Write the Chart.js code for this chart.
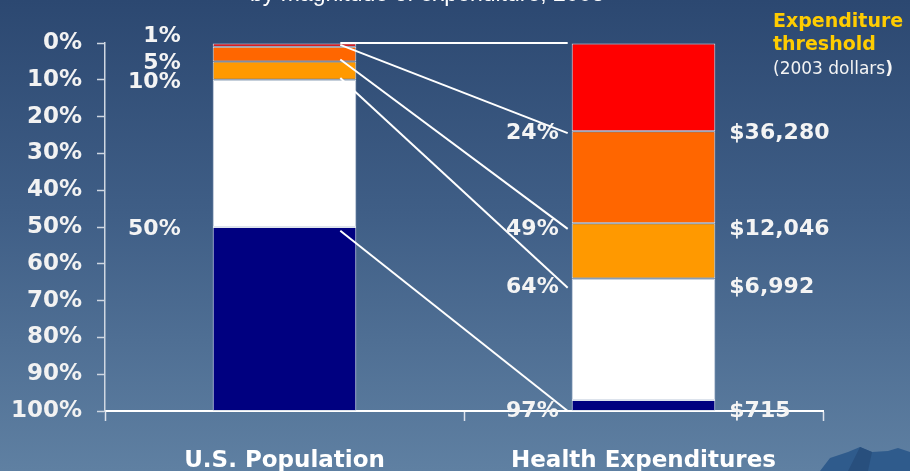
<!DOCTYPE html>
<html>
<head>
<meta charset="utf-8">
<script src="https://cdn.jsdelivr.net/npm/chart.js@4.4.1/dist/chart.umd.min.js"></script>
<style>
  html, body { margin: 0; padding: 0; }
  body {
    width: 910px;
    height: 471px;
    overflow: hidden;
    background: linear-gradient(to bottom, #2c4871 0%, #3f5e86 45%, #5f80a2 100%);
  }
  #wrap { position: relative; width: 910px; height: 471px; }
</style>
</head>
<body>
<div id="wrap"><canvas id="chart"></canvas></div>
<script>
document.addEventListener('DOMContentLoaded', function() {
    // Data
    const categories = ['U.S. Population', 'Health Expenditures'];
    // cumulative shares, from the top spenders down
    const populationBreaks = [0, 1, 5, 10, 50, 100];
    const spendingBreaks = [0, 24, 49, 64, 97, 100];
    const thresholds = ['$36,280', '$12,046', '$6,992', '$715'];
    // guide lines: where each leaves the population bar and where it lands
    const guideFrom = [0, 0.5, 4.5, 9.5, 51];
    const guideTo = [0, 24.5, 50.5, 66.5, 100];

    const segmentColors = ['#ff0000', '#ff6600', '#ff9900', '#ffffff', '#000080'];
    const boldFont = '"DejaVu Sans", sans-serif';

    // One floating dataset per band, both bars share a column per category
    const datasets = segmentColors.map(function(color, i) {
        return {
            data: [
                [populationBreaks[i], populationBreaks[i + 1]],
                [spendingBreaks[i], spendingBreaks[i + 1]]
            ],
            backgroundColor: color,
            borderColor: '#dde3ec',
            borderWidth: 1,
            borderSkipped: false,
            barPercentage: 0.4,
            categoryPercentage: 1
        };
    });

    // Guide lines, value labels, threshold note and the little mountain
    const overlay = {
        id: 'overlay',
        afterDraw(chart) {
            const ctx = chart.ctx;
            const yScale = chart.scales.y;
            const bars = chart.getDatasetMeta(0).data;
            const popBar = bars[0];
            const spendBar = bars[1];
            const startX = popBar.x + popBar.width / 2 - 16;
            const endX = spendBar.x - spendBar.width / 2 - 4;

            ctx.save();

            // heading, only its lower edge shows at the top
            ctx.fillStyle = '#ffffff';
            ctx.font = '23px "Liberation Sans", Arial, sans-serif';
            ctx.textAlign = 'left';
            ctx.textBaseline = 'alphabetic';
            ctx.fillText('by magnitude of expenditure, 2003', 250, 1);

            ctx.strokeStyle = '#ffffff';
            ctx.lineWidth = 2;
            guideFrom.forEach(function(v, i) {
                ctx.beginPath();
                ctx.moveTo(startX, yScale.getPixelForValue(v));
                ctx.lineTo(endX, yScale.getPixelForValue(guideTo[i]));
                ctx.stroke();
            });

            ctx.fillStyle = '#f4f4f4';
            ctx.font = 'bold 22px ' + boldFont;
            ctx.textBaseline = 'middle';

            // population shares, left of the first bar
            ctx.textAlign = 'right';
            const leftX = popBar.x - popBar.width / 2 - 32;
            populationBreaks.slice(1, 5).forEach(function(v, i) {
                const nudge = i === 0 ? -10 : 2;
                ctx.fillText(v + '%', leftX, yScale.getPixelForValue(v) + nudge);
            });

            // spending shares, left of the second bar
            spendingBreaks.slice(1, 5).forEach(function(v, i) {
                ctx.fillText(v + '%', endX - 9, yScale.getPixelForValue(guideTo[i + 1]));
            });

            // dollar thresholds, right of the second bar
            ctx.textAlign = 'left';
            const rightX = spendBar.x + spendBar.width / 2 + 14;
            thresholds.forEach(function(t, i) {
                ctx.fillText(t, rightX, yScale.getPixelForValue(guideTo[i + 1]));
            });

            // threshold note
            ctx.textBaseline = 'alphabetic';
            ctx.fillStyle = '#ffcc00';
            ctx.font = 'bold 19px ' + boldFont;
            ctx.fillText('Expenditure', 773, 27);
            ctx.fillText('threshold', 773, 50);
            ctx.fillStyle = '#f4f4f4';
            ctx.font = '17px ' + boldFont;
            ctx.fillText('(2003 dollars', 773, 74);
            const w = ctx.measureText('(2003 dollars').width;
            ctx.font = 'bold 17px ' + boldFont;
            ctx.fillText(')', 773 + w, 74);

            // mountain in the corner
            ctx.fillStyle = '#2f5b8c';
            ctx.beginPath();
            ctx.moveTo(820, 471);
            ctx.lineTo(830, 458);
            ctx.lineTo(848, 452);
            ctx.lineTo(860, 447);
            ctx.lineTo(872, 452);
            ctx.lineTo(888, 451);
            ctx.lineTo(898, 448);
            ctx.lineTo(910, 452);
            ctx.lineTo(910, 471);
            ctx.closePath();
            ctx.fill();
            ctx.fillStyle = '#284f7d';
            ctx.beginPath();
            ctx.moveTo(848, 471);
            ctx.lineTo(860, 447);
            ctx.lineTo(872, 452);
            ctx.lineTo(868, 471);
            ctx.closePath();
            ctx.fill();

            ctx.restore();
        }
    };

    const ctx = document.getElementById('chart').getContext('2d');
    new Chart(ctx, {
        type: 'bar',
        data: {
            labels: categories,
            datasets: datasets
        },
        options: {
            responsive: true,
            maintainAspectRatio: false,
            animation: false,
            layout: {
                padding: { top: 43, right: 87, bottom: 0, left: 0 }
            },
            plugins: {
                legend: { display: false },
                tooltip: { enabled: false }
            },
            scales: {
                x: {
                    stacked: true,
                    offset: true,
                    afterFit: function(scale) { scale.height = 60; },
                    grid: {
                        offset: true,
                        drawOnChartArea: false,
                        tickLength: 10,
                        tickWidth: 1.5,
                        tickColor: '#dde3ec'
                    },
                    border: { color: '#ffffff', width: 2 },
                    ticks: {
                        color: '#ffffff',
                        padding: 26,
                        maxRotation: 0,
                        font: { family: boldFont, size: 23, weight: 'bold' }
                    }
                },
                y: {
                    stacked: false,
                    reverse: true,
                    min: 0,
                    max: 100,
                    afterFit: function(scale) { scale.width = 105; },
                    grid: {
                        drawOnChartArea: false,
                        tickLength: 8,
                        tickWidth: 1.5,
                        tickColor: '#cfd7e2'
                    },
                    border: { color: '#cfd7e2', width: 1.5 },
                    ticks: {
                        stepSize: 10,
                        padding: 15,
                        color: '#f2f2f2',
                        font: { family: boldFont, size: 23, weight: 'bold' },
                        callback: function(value) { return value + '%'; }
                    }
                }
            }
        },
        plugins: [overlay]
    });
});
</script>
</body>
</html>
